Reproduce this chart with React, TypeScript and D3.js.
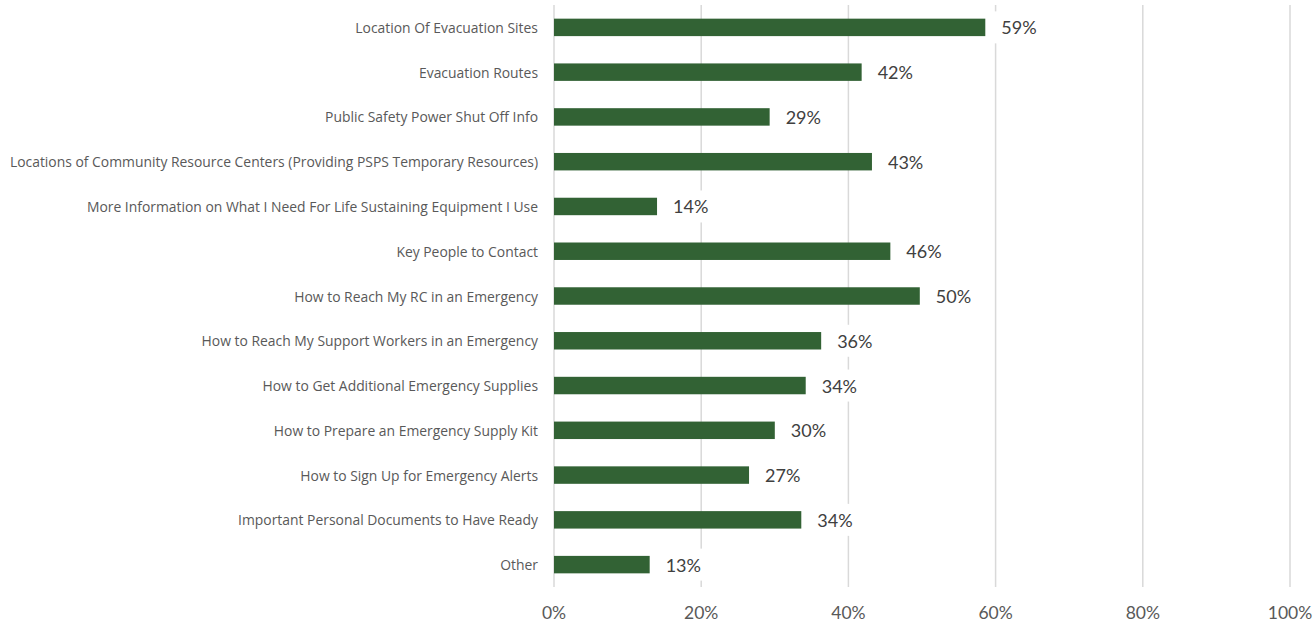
import { useEffect, useRef } from "react";
import * as d3 from "d3";

const categories = [
  "Location Of Evacuation Sites",
  "Evacuation Routes",
  "Public Safety Power Shut Off Info",
  "Locations of Community Resource Centers (Providing PSPS Temporary Resources)",
  "More Information on What I Need For Life Sustaining Equipment I Use",
  "Key People to Contact",
  "How to Reach My RC in an Emergency",
  "How to Reach My Support Workers in an Emergency",
  "How to Get Additional Emergency Supplies",
  "How to Prepare an Emergency Supply Kit",
  "How to Sign Up for Emergency Alerts",
  "Important Personal Documents to Have Ready",
  "Other",
];

const values = [0.586, 0.418, 0.293, 0.432, 0.14, 0.457, 0.497, 0.363, 0.342, 0.3, 0.265, 0.336, 0.13];

const xTicks = [0, 0.2, 0.4, 0.6, 0.8, 1];

const WIDTH = 1316;
const HEIGHT = 622;
const PLOT = { left: 554, right: 1290, top: 5, bottom: 587 };
const FONT = "Lato, 'Open Sans', sans-serif";
const CAT_FONT = "'Open Sans', Lato, sans-serif";
const BAR = "#326234";

export default function App() {
  const svgRef = useRef<SVGSVGElement>(null);

  useEffect(() => {
    const svg = svgRef.current;
    if (!svg) return;
    d3.select(svg).selectAll("*").remove();
    const root = d3.select(svg);

    const x = d3.scaleLinear().domain([0, 1]).range([PLOT.left, PLOT.right]);
    const y = d3
      .scaleBand<string>()
      .domain(categories)
      .range([PLOT.top, PLOT.bottom])
      .paddingInner(0.61)
      .paddingOuter(0.305);

    // grid
    root
      .append("g")
      .selectAll("line")
      .data(xTicks)
      .join("line")
      .attr("x1", (d) => x(d))
      .attr("x2", (d) => x(d))
      .attr("y1", PLOT.top)
      .attr("y2", PLOT.bottom)
      .attr("stroke", "#d9d9d9")
      .attr("stroke-width", 1.5);

    // tick labels
    root
      .append("g")
      .selectAll("text")
      .data(xTicks)
      .join("text")
      .attr("x", (d) => x(d))
      .attr("y", 612)
      .attr("text-anchor", "middle")
      .attr("dominant-baseline", "central")
      .attr("font-family", FONT)
      .attr("font-size", "17.5px")
      .attr("fill", "#595959")
      .text((d) => d3.format(".0%")(d));

    // category labels
    root
      .append("g")
      .selectAll("text")
      .data(categories)
      .join("text")
      .attr("x", 538)
      .attr("y", (d) => (y(d) ?? 0) + y.bandwidth() / 2)
      .attr("text-anchor", "end")
      .attr("dominant-baseline", "central")
      .attr("font-family", CAT_FONT)
      .attr("font-size", "13.9px")
      .attr("fill", "#595959")
      .text((d) => d);

    // bars
    root
      .append("g")
      .selectAll("rect")
      .data(values)
      .join("rect")
      .attr("x", x(0))
      .attr("y", (_, i) => y(categories[i]) ?? 0)
      .attr("width", (d) => x(d) - x(0))
      .attr("height", y.bandwidth())
      .attr("fill", BAR);

    // value labels with white box
    const lbl = root
      .append("g")
      .selectAll("g")
      .data(values)
      .join("g")
      .attr("transform", (d, i) => `translate(${x(d)},${(y(categories[i]) ?? 0) + y.bandwidth() / 2})`);

    lbl
      .append("rect")
      .attr("x", 8)
      .attr("y", -16)
      .attr("width", 52)
      .attr("height", 32)
      .attr("fill", "#fff");

    lbl
      .append("text")
      .attr("x", 16)
      .attr("y", 0)
      .attr("dominant-baseline", "central")
      .attr("font-family", FONT)
      .attr("font-size", "18px")
      .attr("fill", "#404040")
      .text((d) => d3.format(".0%")(d));
  }, []);

  return (
    <svg
      ref={svgRef}
      width={WIDTH}
      height={HEIGHT}
      style={{ position: "absolute", left: 0, top: 0, background: "#fff" }}
    />
  );
}
